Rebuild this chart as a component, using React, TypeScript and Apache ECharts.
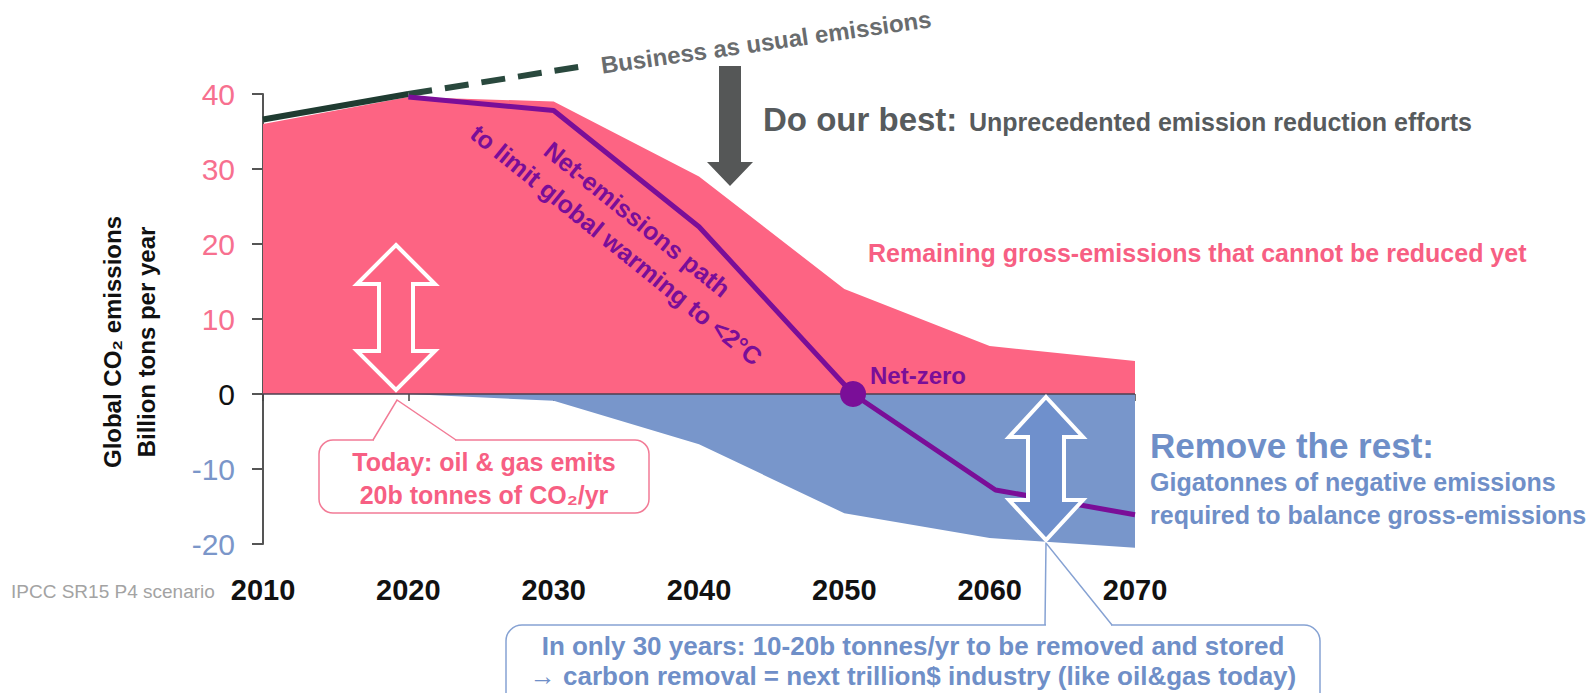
import React, { useEffect, useRef } from "react";
import * as echarts from "echarts";

// ---- data ----
const grossYears = [2010, 2020, 2030, 2040, 2050, 2060, 2070];
const grossValues = [36, 39.6, 39, 29, 14, 6.4, 4.4];
const removalYears = [2010, 2020, 2030, 2040, 2050, 2060, 2070];
const removalValues = [0, 0, -0.9, -6.7, -15.9, -19.2, -20.5];
const netYears = [2020, 2030, 2040, 2050.6, 2060.4, 2070];
const netValues = [39.6, 37.8, 22.3, 0, -12.8, -16.1];
const historyYears = [2010, 2020];
const historyValues = [36.6, 40];
const bauYears = [2020, 2031.7];
const bauValues = [40, 43.6];
const netZeroPoint = [2050.6, 0];
const zeroYears = [2010, 2070];
const zeroValues = [0, 0];

const PINK = "#fd6483";
const BLUE = "#7896cb";
const PURPLE = "#7a0e98";
const GREEN = "#1f3b31";
const PINK_TEXT = "#f75f83";
const BLUE_TEXT = "#6f8fc8";
const GRAY = "#575b5d";
const FONT = "'Liberation Sans', Arial, sans-serif";

const zip = (xs: number[], ys: number[]) => xs.map((x, i) => [x, ys[i]]);

function dblArrow(cx: number, top: number, bot: number, hw: number, hl: number, sw: number) {
  return [
    [cx, top],
    [cx + hw, top + hl],
    [cx + sw, top + hl],
    [cx + sw, bot - hl],
    [cx + hw, bot - hl],
    [cx, bot],
    [cx - hw, bot - hl],
    [cx - sw, bot - hl],
    [cx - sw, top + hl],
    [cx - hw, top + hl],
  ];
}

function txt(
  text: string,
  x: number,
  y: number,
  size: number,
  color: string,
  opts: any = {}
) {
  const align = opts.align || "left";
  return {
    type: "text",
    x,
    y,
    rotation: opts.rotation || 0,
    z: 120,
    style: {
      text,
      fill: color,
      fontSize: size,
      fontWeight: opts.weight || "bold",
      fontFamily: opts.family || FONT,
      align,
      textAlign: align,
      verticalAlign: "middle",
      textVerticalAlign: "middle",
      lineHeight: opts.lineHeight,
    },
  };
}

export default function App() {
  const ref = useRef<HTMLDivElement>(null);

  useEffect(() => {
    document.body.style.margin = "0";
    if (!ref.current) return;
    const chart = echarts.init(ref.current, undefined, { renderer: "svg" });

    const graphic: any[] = [
      // Gray arrow (Do our best)
      {
        type: "polygon",
        z: 110,
        shape: {
          points: [
            [719, 66],
            [741, 66],
            [741, 162],
            [753, 162],
            [730, 186],
            [707, 162],
            [719, 162],
          ],
        },
        style: { fill: "#555757" },
      },
      // Pink double arrow
      {
        type: "polygon",
        z: 110,
        shape: { points: dblArrow(396, 245, 390, 39, 39, 17) },
        style: { fill: PINK, stroke: "#ffffff", lineWidth: 4, lineJoin: "miter" },
      },
      // Blue double arrow
      {
        type: "polygon",
        z: 110,
        shape: { points: dblArrow(1046, 397, 540, 37, 40, 18) },
        style: { fill: "#6f90cc", stroke: "#ffffff", lineWidth: 4, lineJoin: "miter" },
      },
      // Pink callout box
      {
        type: "rect",
        z: 105,
        shape: { x: 319, y: 440, width: 330, height: 73, r: 14 },
        style: { fill: "#ffffff", stroke: "#f27b96", lineWidth: 1.5 },
      },
      {
        type: "line",
        z: 106,
        shape: { x1: 374, y1: 440, x2: 455, y2: 440 },
        style: { stroke: "#ffffff", lineWidth: 3 },
      },
      {
        type: "polyline",
        z: 107,
        shape: { points: [[373, 440], [397, 400], [456, 440]] },
        style: { stroke: "#f27b96", lineWidth: 1.5, fill: null },
      },
      // Blue callout box
      {
        type: "rect",
        z: 105,
        shape: { x: 506, y: 625, width: 814, height: 100, r: 16 },
        style: { fill: "#ffffff", stroke: "#86a2d3", lineWidth: 1.5 },
      },
      {
        type: "line",
        z: 106,
        shape: { x1: 1046, y1: 625, x2: 1111, y2: 625 },
        style: { stroke: "#ffffff", lineWidth: 3 },
      },
      {
        type: "polyline",
        z: 107,
        shape: { points: [[1045, 625], [1046, 543], [1112, 625]] },
        style: { stroke: "#86a2d3", lineWidth: 1.5, fill: null },
      },
      // Texts
      txt("Business as usual emissions", 766, 42, 24, "#696c6e", { align: "center", rotation: 0.14 }),
      txt("Do our best:", 763, 119, 33, GRAY),
      txt("Unprecedented emission reduction efforts", 969, 122, 25, GRAY),
      txt("Remaining gross-emissions that cannot be reduced yet", 868, 253, 25, PINK_TEXT),
      txt("Net-emissions path\nto limit global warming to <2°C", 627, 232, 25, PURPLE, {
        align: "center",
        rotation: -0.68,
        lineHeight: 33,
      }),
      txt("Net-zero", 870, 375, 24, PURPLE),
      txt("Today: oil & gas emits", 484, 462, 25, PINK_TEXT, { align: "center" }),
      txt("20b tonnes of CO₂/yr", 484, 495, 25, PINK_TEXT, { align: "center" }),
      txt("Remove the rest:", 1150, 445, 35, BLUE_TEXT),
      txt("Gigatonnes of negative emissions", 1150, 482, 25, BLUE_TEXT),
      txt("required to balance gross-emissions", 1150, 515, 25, BLUE_TEXT),
      txt("In only 30 years: 10-20b tonnes/yr to be removed and stored", 913, 646, 26, BLUE_TEXT, {
        align: "center",
      }),
      txt("→ carbon removal = next trillion$ industry (like oil&gas today)", 913, 676, 26, BLUE_TEXT, {
        align: "center",
      }),
      txt("IPCC SR15 P4 scenario", 11, 591, 19, "#a3a3a3", { weight: "normal" }),
      txt("Global CO₂ emissions", 112, 342, 24, "#111111", { align: "center", rotation: Math.PI / 2 }),
      txt("Billion tons per year", 146, 342, 24, "#111111", { align: "center", rotation: Math.PI / 2 }),
    ];

    const lineBase = {
      type: "line",
      symbol: "none",
      clip: false,
      silent: true,
    };

    chart.setOption({
      animation: false,
      backgroundColor: "#ffffff",
      grid: { left: 263, right: 461, top: 94, bottom: 149, containLabel: false },
      xAxis: {
        type: "value",
        min: 2010,
        max: 2070,
        interval: 10,
        offset: 19,
        axisLine: { show: false },
        axisTick: { show: true, length: 7, lineStyle: { color: "#444", width: 1.5 } },
        splitLine: { show: false },
        axisLabel: {
          margin: 12,
          fontSize: 29,
          fontWeight: "bold",
          fontFamily: FONT,
          color: "#111",
          formatter: (v: number) => String(v),
        },
      },
      yAxis: {
        type: "value",
        min: -20,
        max: 40,
        interval: 10,
        axisLine: { show: true, lineStyle: { color: "#555", width: 2 } },
        axisTick: { show: true, length: 11, lineStyle: { color: "#555", width: 2 } },
        splitLine: { show: false },
        axisLabel: {
          margin: 28,
          fontSize: 30,
          fontFamily: FONT,
          color: (v: any) => {
            const n = Number(v);
            return n > 0 ? "#f7708f" : n < 0 ? "#7b96c9" : "#111111";
          },
        },
      },
      series: [
        {
          ...lineBase,
          name: "Gross emissions",
          data: zip(grossYears, grossValues),
          lineStyle: { width: 0 },
          areaStyle: { color: PINK, opacity: 1 },
          z: 1,
        },
        {
          ...lineBase,
          name: "Negative emissions",
          data: zip(removalYears, removalValues),
          lineStyle: { width: 0 },
          areaStyle: { color: BLUE, opacity: 1 },
          z: 1,
        },
        {
          ...lineBase,
          name: "Zero",
          data: zip(zeroYears, zeroValues),
          lineStyle: { color: "#4b3f4f", width: 1.5 },
          z: 2,
        },
        {
          ...lineBase,
          name: "History",
          data: zip(historyYears, historyValues),
          lineStyle: { color: GREEN, width: 6 },
          z: 3,
        },
        {
          ...lineBase,
          name: "Business as usual",
          data: zip(bauYears, bauValues),
          lineStyle: { color: "#29483d", width: 6, type: [24, 13] },
          z: 3,
        },
        {
          ...lineBase,
          name: "Net emissions",
          data: zip(netYears, netValues),
          lineStyle: { color: PURPLE, width: 5 },
          z: 4,
        },
        {
          type: "scatter",
          name: "Net-zero",
          data: [netZeroPoint],
          symbolSize: 26,
          itemStyle: { color: PURPLE, opacity: 1 },
          silent: true,
          z: 5,
        },
      ],
      graphic,
    });

    return () => chart.dispose();
  }, []);

  return <div ref={ref} style={{ width: 1596, height: 693 }} />;
}
